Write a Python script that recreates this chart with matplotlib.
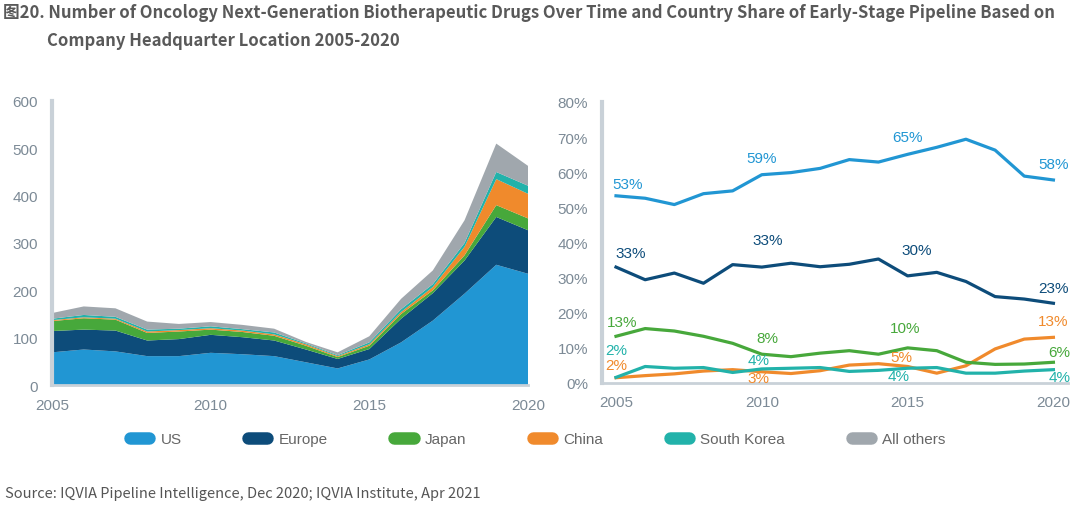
import numpy as np
import matplotlib.pyplot as plt
from matplotlib.lines import Line2D

years = list(range(2005, 2021))

# left: number of drugs by HQ location (stacked)
us_n = [69, 75, 71, 61, 61, 68, 65, 61, 48, 35, 54, 90, 136, 193, 254, 235]
europe_n = [45, 42, 44, 33, 36, 38, 36, 33, 27, 20, 22, 50, 58, 70, 101, 92]
japan_n = [21, 24, 23, 16, 16, 11, 11, 10, 8, 4, 7, 10, 6, 11, 25, 25]
china_n = [2, 2, 2, 3, 3, 3, 3, 3, 3, 2, 3, 4, 7, 18, 55, 52]
korea_n = [3, 5, 4, 4, 3, 4, 3, 4, 2, 2, 4, 6, 6, 8, 15, 17]
others_n = [12, 18, 18, 17, 10, 9, 9, 8, 3, 6, 13, 22, 29, 48, 60, 42]

# right: country share of early-stage pipeline (%)
us_pct = [53.3, 52.6, 50.8, 53.9, 54.7, 59.3, 59.9, 61.1, 63.6, 62.9, 65.1, 67.1, 69.4, 66.3, 58.9, 57.8]
europe_pct = [33.0, 29.4, 31.3, 28.4, 33.7, 33.0, 34.1, 33.1, 33.8, 35.3, 30.5, 31.5, 28.9, 24.6, 23.9, 22.7]
japan_pct = [13.3, 15.5, 14.8, 13.3, 11.3, 8.2, 7.5, 8.5, 9.2, 8.2, 10.0, 9.2, 5.9, 5.3, 5.4, 5.9]
china_pct = [1.5, 2.1, 2.6, 3.4, 3.8, 3.2, 2.7, 3.5, 5.1, 5.5, 4.7, 2.8, 4.9, 9.7, 12.5, 13.0]
korea_pct = [1.6, 4.7, 4.2, 4.4, 3.0, 4.0, 4.2, 4.4, 3.3, 3.6, 4.2, 4.4, 2.8, 2.8, 3.4, 3.8]

# point labels: (series, text, x, y)
pct_labels = [
    ("US", "53%", 2005.4, 56.6), ("US", "59%", 2010.0, 64.1),
    ("US", "65%", 2015.0, 70.0), ("US", "58%", 2020.0, 62.3),
    ("Europe", "33%", 2005.5, 37.0), ("Europe", "33%", 2010.2, 40.8),
    ("Europe", "30%", 2015.3, 37.8), ("Europe", "23%", 2020.0, 27.1),
    ("Japan", "13%", 2005.2, 17.5), ("Japan", "8%", 2010.2, 12.7),
    ("Japan", "10%", 2014.9, 15.6), ("Japan", "6%", 2020.2, 8.7),
    ("China", "2%", 2005.0, 5.1), ("China", "3%", 2009.9, 1.3),
    ("China", "5%", 2014.8, 7.3), ("China", "13%", 2020.0, 17.7),
    ("South Korea", "2%", 2005.0, 9.4), ("South Korea", "4%", 2009.9, 6.5),
    ("South Korea", "4%", 2014.7, 2.1), ("South Korea", "4%", 2020.2, 1.8),
]

names = ["US", "Europe", "Japan", "China", "South Korea", "All others"]
colors = {"US": "#2196d3", "Europe": "#0d4c7a", "Japan": "#47a83b",
          "China": "#f08a2c", "South Korea": "#22b2aa", "All others": "#a0a7ad"}

tick_color = "#7c8a96"
spine_color = "#c9d1d8"
plt.rcParams['font.family'] = ['Liberation Sans', 'DejaVu Sans']

fig = plt.figure(figsize=(10.8, 5.06), dpi=100)

# left stacked area
ax1 = fig.add_axes([52 / 1080, 1 - 386 / 506, 476 / 1080, 284 / 506])
ax1.stackplot(years, us_n, europe_n, japan_n, china_n, korea_n, others_n,
              colors=[colors[n] for n in names], linewidth=0)
ax1.set_xlim(2005, 2020)
ax1.set_ylim(0, 600)
ax1.set_xticks([2005, 2010, 2015, 2020])
ax1.set_yticks(range(0, 601, 100))

# right lines
ax2 = fig.add_axes([602 / 1080, 1 - 384 / 506, 466 / 1080, 281 / 506])
series = {"US": us_pct, "Europe": europe_pct, "Japan": japan_pct,
          "China": china_pct, "South Korea": korea_pct}
for n in ["China", "South Korea", "Japan", "Europe", "US"]:
    ax2.plot(years, series[n], color=colors[n], lw=2.3, solid_joinstyle='round')
for n, txt, x, y in pct_labels:
    ax2.text(x, y, txt, color=colors[n], fontsize=11, ha='center', va='center')
ax2.set_xlim(2004.52, 2020.5)
ax2.set_ylim(0, 80)
ax2.set_xticks([2005, 2010, 2015, 2020])
ax2.set_yticks(range(0, 81, 10))
ax2.set_yticklabels([f"{v}%" for v in range(0, 81, 10)])

for ax in (ax1, ax2):
    for s in ("top", "right"):
        ax.spines[s].set_visible(False)
    ax.spines["left"].set_color(spine_color)
    ax.spines["left"].set_linewidth(3)
    ax.spines["bottom"].set_color(spine_color)
    ax.spines["bottom"].set_linewidth(2)
    ax.tick_params(length=0, colors=tick_color, labelsize=11)
    ax.tick_params(axis='x', pad=9)
    ax.tick_params(axis='y', pad=10)

# legend with pill handles
handles = [Line2D([0], [0], color=colors[n], lw=9, solid_capstyle='round') for n in names]
fig.legend(handles, names, loc='center', bbox_to_anchor=(0.498, 1 - 440 / 506),
           ncol=6, frameon=False, fontsize=11, labelcolor='#666666',
           handlelength=1.25, handletextpad=0.75, columnspacing=4.35)

title_font = ['Noto Sans CJK SC', 'DejaVu Sans']
fig.text(3 / 1080, 1 - 13 / 506,
         "图20. Number of Oncology Next-Generation Biotherapeutic Drugs Over Time and Country Share of Early-Stage Pipeline Based on",
         family=title_font, fontsize=12, fontweight='bold', color='#595959', va='center')
fig.text(47 / 1080, 1 - 41 / 506, "Company Headquarter Location 2005-2020",
         family=title_font, fontsize=12, fontweight='bold', color='#595959', va='center')
fig.text(5 / 1080, 1 - 494 / 506,
         "Source: IQVIA Pipeline Intelligence, Dec 2020; IQVIA Institute, Apr 2021",
         family=title_font, fontsize=10.5, color='#555555', va='center')

fig.savefig("out.png", dpi=100)
